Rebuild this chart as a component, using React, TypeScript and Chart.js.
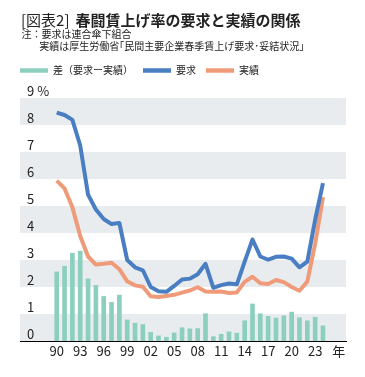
import React, { useEffect, useRef } from 'react';
import { Chart, registerables } from 'chart.js';

Chart.register(...registerables);

const years = [
  1990, 1991, 1992, 1993, 1994, 1995, 1996, 1997, 1998, 1999,
  2000, 2001, 2002, 2003, 2004, 2005, 2006, 2007, 2008, 2009,
  2010, 2011, 2012, 2013, 2014, 2015, 2016, 2017, 2018, 2019,
  2020, 2021, 2022, 2023, 2024,
];

const diffValues = [
  2.56, 2.77, 3.25, 3.33, 2.3, 2.06, 1.65, 1.43, 1.7, 0.78,
  0.66, 0.61, 0.32, 0.19, 0.14, 0.3, 0.49, 0.45, 0.46, 1.01,
  0.16, 0.25, 0.34, 0.29, 0.75, 1.37, 1.01, 0.91, 0.85, 0.93,
  1.07, 0.86, 0.75, 0.88, 0.56,
];

const demandValues = [
  8.46, 8.37, 8.19, 7.24, 5.42, 4.87, 4.52, 4.33, 4.37, 3.0,
  2.73, 2.62, 2.0, 1.84, 1.82, 2.04, 2.28, 2.31, 2.47, 2.86,
  1.97, 2.07, 2.13, 2.1, 2.94, 3.76, 3.13, 3.01, 3.12, 3.13,
  3.05, 2.73, 2.94, 4.49, 5.85,
];

const actualValues = [
  5.94, 5.65, 4.95, 3.89, 3.13, 2.83, 2.86, 2.9, 2.66, 2.21,
  2.06, 2.01, 1.66, 1.63, 1.67, 1.71, 1.79, 1.87, 1.99, 1.83,
  1.82, 1.83, 1.78, 1.8, 2.19, 2.38, 2.14, 2.11, 2.26, 2.18,
  2.0, 1.86, 2.2, 3.6, 5.33,
];

const xTickYears = [1990, 1993, 1996, 1999, 2002, 2005, 2008, 2011, 2014, 2017, 2020, 2023, 2026];
const xUnitLabel = '年';
const yTickValues = [0, 1, 2, 3, 4, 5, 6, 7, 8, 9];
const yUnitLabel = '%';

const seriesLabels = ['差（要求ー実績）', '要求', '実績'];

const TEAL = '#8dcfbf';
const BLUE = '#4a7ec2';
const ORANGE = '#ef9b79';
const BAND = '#e9ecef';
const TEXT = '#222222';
const FONT = "'Noto Sans CJK JP', 'Noto Sans', sans-serif";

const bandPlugin = {
  id: 'bands',
  beforeDraw(chart: any) {
    const { ctx, chartArea, scales } = chart;
    const y = scales.y;
    ctx.save();
    ctx.fillStyle = BAND;
    for (let v = 0; v < 9; v += 2) {
      const top = y.getPixelForValue(v + 1);
      const bottom = y.getPixelForValue(v);
      ctx.fillRect(chartArea.left, top, chartArea.right - chartArea.left, bottom - top);
    }
    ctx.restore();
  },
};

export default function App() {
  const canvasRef = useRef<HTMLCanvasElement | null>(null);

  useEffect(() => {
    const canvas = canvasRef.current;
    if (!canvas) return;
    const toPoints = (vals: number[]) => years.map((x, i) => ({ x, y: vals[i] }));
    const chart = new Chart(canvas, {
      type: 'bar',
      data: {
        datasets: [
          {
            type: 'bar',
            label: seriesLabels[0],
            data: toPoints(diffValues),
            backgroundColor: TEAL,
            borderWidth: 0,
            barThickness: 4,
            order: 3,
          } as any,
          {
            type: 'line',
            label: seriesLabels[1],
            data: toPoints(demandValues),
            borderColor: BLUE,
            backgroundColor: BLUE,
            borderWidth: 4,
            pointRadius: 0,
            tension: 0,
            borderJoinStyle: 'round',
            order: 1,
          } as any,
          {
            type: 'line',
            label: seriesLabels[2],
            data: toPoints(actualValues),
            borderColor: ORANGE,
            backgroundColor: ORANGE,
            borderWidth: 4,
            pointRadius: 0,
            tension: 0,
            borderJoinStyle: 'round',
            order: 2,
          } as any,
        ],
      },
      options: {
        animation: false,
        responsive: false,
        maintainAspectRatio: false,
        events: [],
        layout: { padding: { left: 10, right: 19, top: 55.5, bottom: 16.4 } },
        plugins: {
          legend: {
            display: true,
            position: 'top',
            align: 'start',
            weight: 1600,
            labels: {
              boxWidth: 28,
              boxHeight: 4.5,
              padding: 10,
              color: TEXT,
              font: { family: FONT, size: 10 },
              generateLabels: (c: any) =>
                (Chart.defaults.plugins.legend.labels as any)
                  .generateLabels(c)
                  .map((it: any) => ({ ...it, lineWidth: 0 })),
              sort: (a: any, b: any) => a.datasetIndex - b.datasetIndex,
            },
          } as any,
          subtitle: {
            display: true,
            text: ' ',
            padding: 0,
            font: { family: FONT, size: 10, lineHeight: 1.25 },
          },
          title: { display: false },
          tooltip: { enabled: false },
        },
        scales: {
          x: {
            type: 'linear',
            min: 1985.31,
            max: 2026.94,
            offset: false,
            grid: { display: false, drawTicks: false, offset: false },
            border: { display: true, color: '#000000', width: 1 },
            ticks: {
              padding: 2,
              color: TEXT,
              font: { family: FONT, size: 13 },
              maxRotation: 0,
              autoSkip: false,
              callback: (v: any) => (v === 2026 ? xUnitLabel : String(v % 100).padStart(2, '0')),
            },
            afterBuildTicks: (scale: any) => {
              scale.ticks = xTickYears.map((value) => ({ value }));
            },
          } as any,
          y: {
            min: 0,
            max: 9,
            grid: { display: false, drawTicks: false },
            border: { display: false },
            ticks: {
              mirror: true,
              padding: 7,
              labelOffset: -7,
              color: TEXT,
              font: { family: FONT, size: 13 },
              autoSkip: false,
              callback: (v: any) => (v === 9 ? `${v} ${yUnitLabel}` : String(v)),
            },
            afterBuildTicks: (scale: any) => {
              scale.ticks = yTickValues.map((value) => ({ value }));
            },
            afterFit: (scale: any) => {
              scale.width = 10;
            },
          } as any,
        },
      },
      plugins: [bandPlugin],
    } as any);
    return () => chart.destroy();
  }, []);

  return (
    <div
      style={{
        position: 'fixed',
        left: 0,
        top: 0,
        width: 365,
        height: 377,
        background: '#ffffff',
        fontFamily: FONT,
        color: TEXT,
        overflow: 'hidden',
      }}
    >
      <canvas ref={canvasRef} width={365} height={377} style={{ position: 'absolute', left: 0, top: 0, width: 365, height: 377 }} />
      <div style={{ position: 'absolute', left: 21, top: 11.7, fontSize: 15, lineHeight: '15px', whiteSpace: 'nowrap' }}>
        <span style={{ fontWeight: 400 }}>[図表2]</span>
        <span style={{ fontWeight: 700, marginLeft: 6 }}>春闘賃上げ率の要求と実績の関係</span>
      </div>
      <div style={{ position: 'absolute', left: 21.5, top: 27.8, fontSize: 10, lineHeight: '12px', whiteSpace: 'nowrap' }}>
        注：要求は連合傘下組合
      </div>
      <div style={{ position: 'absolute', left: 39.3, top: 40.2, fontSize: 10, lineHeight: '12px', whiteSpace: 'nowrap' }}>
        実績は厚生労働省｢民間主要企業春季賃上げ要求･妥結状況｣
      </div>
    </div>
  );
}
